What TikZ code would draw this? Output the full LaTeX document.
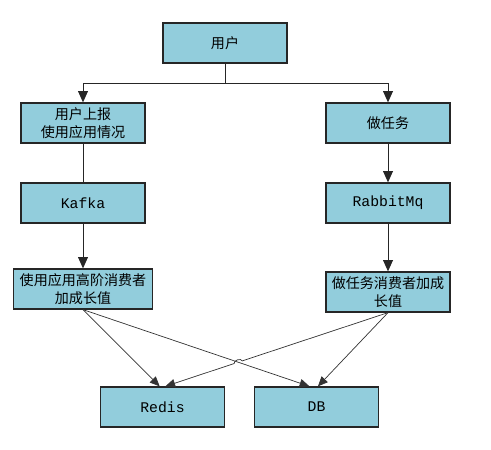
\documentclass[tikz,border=0pt]{standalone}
\usepackage{fontspec}
\setmonofont{Liberation Mono}
\newfontfamily\cjk{Noto Sans CJK SC}
\usetikzlibrary{arrows.meta, calc, intersections}
\definecolor{boxblue}{RGB}{146,205,220}

\begin{document}
\begin{tikzpicture}[
    block/.style={rectangle, fill=boxblue, draw=black!85, line width=0.9pt, minimum width=3.1cm, minimum height=1cm, align=center, inner sep=1pt, font=\cjk\fontsize{10}{13}\selectfont},
    latin/.style={font=\ttfamily\fontsize{10.5}{13}\selectfont},
    flow/.style={-{Triangle[length=8pt, width=7pt]}, line width=0.7pt, black!85},
    cross/.style={-{Triangle[length=7pt, width=6pt]}, line width=0.5pt, black!80}]

\useasboundingbox (0,0) rectangle (12.275,11.225);

% STATES
\node[block] (user) at (5.625,10.15) {用户};
\node[block] (report) at (2.075,8.15) {用户上报\\使用应用情况};
\node[block] (task) at (9.7,8.15) {做任务};
\node[block, latin] (kafka) at (2.075,6.15) {Kafka};
\node[block, latin] (rabbit) at (9.7,6.15) {RabbitMq};
\node[block, minimum width=3.475cm] (consA) at (2.075,4.0) {使用应用高阶消费者\\加成长值};
\node[block] (consB) at (9.7,3.925) {做任务消费者加成\\长值};
\node[block, latin] (redis) at (4.0625,1.05) {Redis};
\node[block, latin] (db) at (7.9125,1.05) {DB};

% STRAIGHT ARROWS
\draw[flow] (user.south) -- ++(0,-0.5) -| (report.north);
\draw[flow] (user.south) -- ++(0,-0.5) -| (task.north);
\draw[line width=0.7pt, black!85] (report.south) -- (kafka.north);
\draw[flow] (task.south) -- (rabbit.north);
\draw[flow] (kafka.south) -- (consA.north);
\draw[flow] (rabbit.south) -- (consB.north);

% CROSSING ARROWS
\draw[cross] (consA.south) -- ([xshift=-2pt]redis.north);
\draw[cross, name path=toDB] (consA.south) -- ([xshift=-5pt]db.north);
\draw[cross] (consB.south) -- ([xshift=1pt]db.north);
\path[name path=toRedis] (consB.south) -- ([xshift=2pt]redis.north);
\path[name intersections={of=toDB and toRedis, by=jump}];
\coordinate (jumpIn) at ($(jump)!3pt!(consB.south)$);
\coordinate (jumpOut) at ($(jump)!3pt!(redis.north)$);
\draw[cross] (consB.south) -- (jumpIn) to[bend right=90] (jumpOut) -- ([xshift=2pt]redis.north);

\end{tikzpicture}
\end{document}
